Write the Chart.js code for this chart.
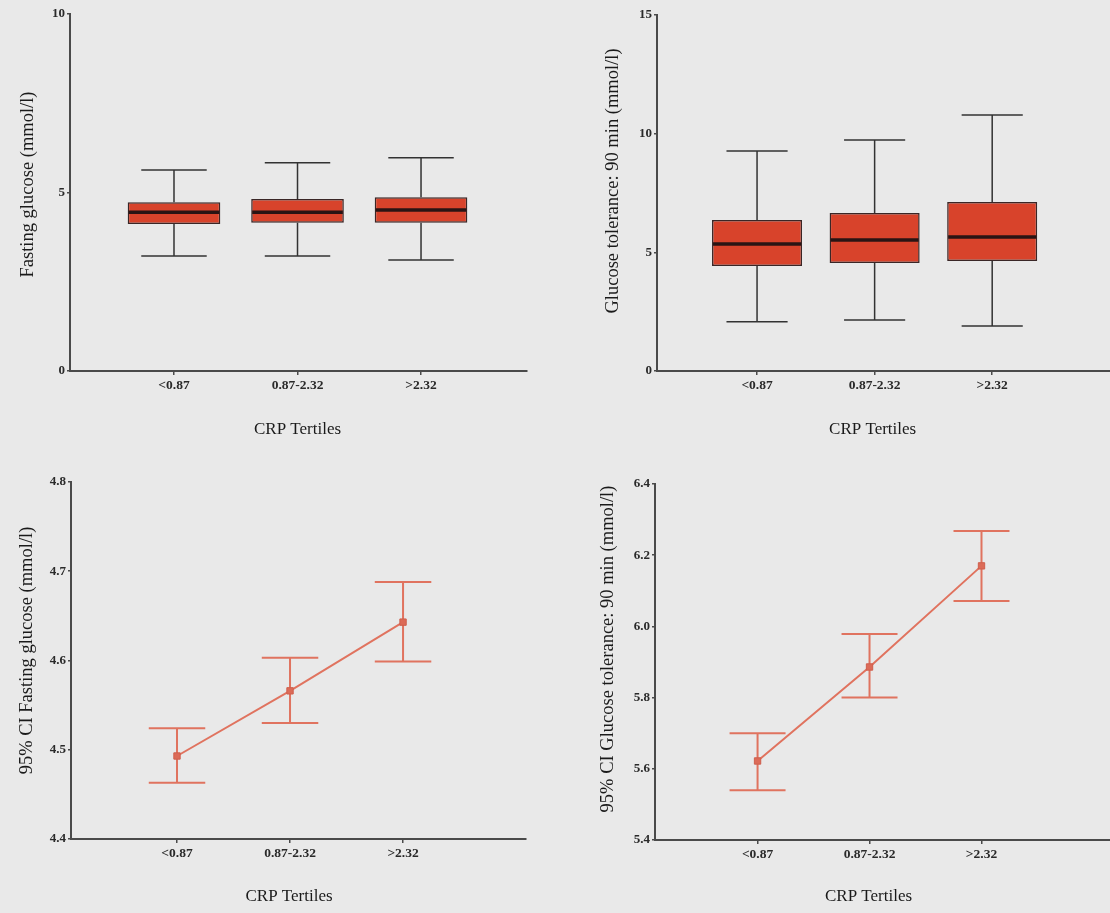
<!DOCTYPE html>
<html>
<head>
<meta charset="utf-8">
<title>Glucose by CRP tertiles</title>
<script src="https://cdn.jsdelivr.net/npm/chart.js@4.4.1/dist/chart.umd.min.js"></script>
<style>
  html, body { margin: 0; padding: 0; background: #e9e9e9; overflow: hidden; }
  body { width: 1110px; height: 913px; position: relative; }
  .panel { position: absolute; }
</style>
</head>
<body>
<div class="panel" id="pTL" style="left:13px; top:0; width:524px; height:444px;"><canvas id="cTL"></canvas></div>
<div class="panel" id="pTR" style="left:598px; top:0; width:520px; height:444px;"><canvas id="cTR"></canvas></div>
<div class="panel" id="pBL" style="left:12px; top:460px; width:524px; height:451px;"><canvas id="cBL"></canvas></div>
<div class="panel" id="pBR" style="left:593px; top:460px; width:525px; height:451px;"><canvas id="cBR"></canvas></div>
<script>
// CRP tertile groups
const categories = ['<0.87', '0.87-2.32', '>2.32'];

// Fasting glucose (mmol/l) box plots
const fastMin = [3.22, 3.22, 3.11];
const fastQ1  = [4.12, 4.15, 4.15];
const fastMed = [4.45, 4.45, 4.51];
const fastQ3  = [4.73, 4.82, 4.87];
const fastMax = [5.63, 5.83, 5.97];

// Glucose tolerance at 90 min (mmol/l) box plots
const ogttMin = [2.07, 2.15, 1.90];
const ogttQ1  = [4.42, 4.55, 4.64];
const ogttMed = [5.35, 5.52, 5.65];
const ogttQ3  = [6.36, 6.66, 7.12];
const ogttMax = [9.27, 9.73, 10.79];

// Means with 95% CI
const fastMean = [4.493, 4.566, 4.643];
const fastLo   = [4.463, 4.530, 4.599];
const fastHi   = [4.524, 4.603, 4.688];
const ogttMean = [5.622, 5.886, 6.170];
const ogttLo   = [5.540, 5.800, 6.071];
const ogttHi   = [5.700, 5.979, 6.268];

// y tick values
const fastTicks   = [0, 5, 10];
const ogttTicks   = [0, 5, 10, 15];
const fastCiTicks = [4.4, 4.5, 4.6, 4.7, 4.8];
const ogttCiTicks = [5.4, 5.6, 5.8, 6.0, 6.2, 6.4];

const xTitleText = 'CRP Tertiles';

Chart.defaults.font.family = '"Liberation Serif", "Times New Roman", serif';
Chart.defaults.color = '#1a1a1a';
Chart.defaults.animation = false;

const AXIS = '#4a4a4a';
const BOX_FILL = '#d8432b';
const BOX_EDGE = '#3a2626';
const CI_RED = '#e0735f';

// whiskers + median line for the floating-bar boxes
const boxWhisker = {
  id: 'boxWhisker',
  beforeDatasetsDraw(chart, args, opts) {
    if (!opts.min) return;
    const { ctx, scales: { x, y } } = chart;
    ctx.save();
    ctx.strokeStyle = '#333';
    ctx.lineWidth = 1.5;
    opts.min.forEach((lo, i) => {
      const cx = x.getPixelForValue(i + 1);
      const half = (x.getPixelForValue(1 + opts.cap / 2) - x.getPixelForValue(1));
      const yLo = y.getPixelForValue(lo), yHi = y.getPixelForValue(opts.max[i]);
      const yQ1 = y.getPixelForValue(opts.q1[i]), yQ3 = y.getPixelForValue(opts.q3[i]);
      ctx.beginPath();
      ctx.moveTo(cx, yQ1); ctx.lineTo(cx, yLo);
      ctx.moveTo(cx, yQ3); ctx.lineTo(cx, yHi);
      ctx.moveTo(cx - half, yLo); ctx.lineTo(cx + half, yLo);
      ctx.moveTo(cx - half, yHi); ctx.lineTo(cx + half, yHi);
      ctx.stroke();
    });
    ctx.restore();
  },
  afterDatasetsDraw(chart, args, opts) {
    if (!opts.med) return;
    const { ctx, scales: { y } } = chart;
    const meta = chart.getDatasetMeta(0);
    ctx.save();
    ctx.strokeStyle = '#2a1414';
    ctx.lineWidth = 3.5;
    meta.data.forEach((bar, i) => {
      const ym = y.getPixelForValue(opts.med[i]);
      ctx.beginPath();
      ctx.moveTo(bar.x - bar.width / 2 + 1, ym);
      ctx.lineTo(bar.x + bar.width / 2 - 1, ym);
      ctx.stroke();
    });
    ctx.restore();
  }
};

// vertical CI bars with caps
const errorBars = {
  id: 'errorBars',
  beforeDatasetsDraw(chart, args, opts) {
    if (!opts.lo) return;
    const { ctx, scales: { x, y } } = chart;
    ctx.save();
    ctx.strokeStyle = CI_RED;
    ctx.lineWidth = 2;
    opts.lo.forEach((lo, i) => {
      const cx = x.getPixelForValue(i + 1);
      const half = (x.getPixelForValue(1 + opts.cap / 2) - x.getPixelForValue(1));
      const y1 = y.getPixelForValue(lo), y2 = y.getPixelForValue(opts.hi[i]);
      ctx.beginPath();
      ctx.moveTo(cx, y1); ctx.lineTo(cx, y2);
      ctx.moveTo(cx - half, y1); ctx.lineTo(cx + half, y1);
      ctx.moveTo(cx - half, y2); ctx.lineTo(cx + half, y2);
      ctx.stroke();
    });
    ctx.restore();
  }
};

// axis titles: rotated y title a bit above the axis middle, x title under the axis
const axisTitles = {
  id: 'axisTitles',
  afterDraw(chart, args, opts) {
    const { ctx, chartArea, scales: { x, y } } = chart;
    const family = Chart.defaults.font.family;
    ctx.save();
    ctx.fillStyle = '#1a1a1a';
    ctx.textAlign = 'center';
    ctx.textBaseline = 'middle';

    ctx.font = '18.5px ' + family;
    ctx.save();
    ctx.translate(y.left + 15, (chartArea.top + chartArea.bottom) / 2 - opts.yShift);
    ctx.rotate(-Math.PI / 2);
    ctx.fillText(opts.yText, 0, 0);
    ctx.restore();

    ctx.font = '17px ' + family;
    ctx.fillText(opts.xText, x.getPixelForValue(2) + opts.xShift, chartArea.bottom + opts.xGap);
    ctx.restore();
  }
};

function scalesFor(opt) {
  return {
    x: {
      type: 'linear',
      min: opt.xMin,
      max: opt.xMax,
      offset: false,
      afterBuildTicks: s => { s.ticks = categories.map((c, i) => ({ value: i + 1 })); },
      afterFit: s => { s.height = opt.xHeight; },
      grid: { offset: false, drawOnChartArea: false, drawTicks: true, tickLength: 4, color: AXIS, lineWidth: 1.5 },
      border: { display: true, color: AXIS, width: 2 },
      ticks: {
        padding: 2,
        font: { size: 13.5, weight: 'bold' },
        color: '#2a2a2a',
        callback: v => categories[v - 1]
      }
    },
    y: {
      min: opt.ticks[0],
      max: opt.ticks[opt.ticks.length - 1],
      afterBuildTicks: s => { s.ticks = opt.ticks.map(v => ({ value: v })); },
      afterFit: s => { s.width = opt.yWidth; },
      grid: { drawOnChartArea: false, drawTicks: true, tickLength: 3, color: AXIS, lineWidth: 1.5 },
      border: { display: true, color: AXIS, width: 2 },
      ticks: {
        padding: 2,
        font: { size: 13, weight: 'bold' },
        color: '#2a2a2a',
        callback: v => opt.decimals ? v.toFixed(opt.decimals) : v
      }
    }
  };
}

function titlesFor(opt) {
  return { yText: opt.yTitle, yShift: opt.yShift, xText: xTitleText, xShift: opt.xShift, xGap: opt.xGap };
}

function boxChart(id, q1, med, q3, lo, hi, opt) {
  return new Chart(document.getElementById(id), {
    type: 'bar',
    data: {
      datasets: [{
        data: categories.map((c, i) => ({ x: i + 1, y: [q1[i], q3[i]] })),
        backgroundColor: BOX_FILL,
        borderColor: BOX_EDGE,
        borderWidth: 1.5,
        borderSkipped: false,
        categoryPercentage: 1,
        barPercentage: opt.boxWidth
      }]
    },
    options: {
      responsive: true,
      maintainAspectRatio: false,
      layout: { padding: { top: opt.padTop, right: opt.padRight, left: 0, bottom: 0 } },
      plugins: {
        legend: { display: false },
        tooltip: { enabled: false },
        boxWhisker: { min: lo, max: hi, q1: q1, q3: q3, med: med, cap: opt.cap },
        axisTitles: titlesFor(opt)
      },
      scales: scalesFor(opt)
    },
    plugins: [boxWhisker, axisTitles]
  });
}

function ciChart(id, mean, lo, hi, opt) {
  return new Chart(document.getElementById(id), {
    type: 'line',
    data: {
      datasets: [{
        data: categories.map((c, i) => ({ x: i + 1, y: mean[i] })),
        borderColor: CI_RED,
        borderWidth: 2,
        pointStyle: 'rect',
        pointRadius: 4.5,
        pointBackgroundColor: '#dc6b58',
        pointBorderColor: '#cf5f4d',
        pointBorderWidth: 1
      }]
    },
    options: {
      responsive: true,
      maintainAspectRatio: false,
      layout: { padding: { top: opt.padTop, right: opt.padRight, left: 0, bottom: 0 } },
      plugins: {
        legend: { display: false },
        tooltip: { enabled: false },
        errorBars: { lo: lo, hi: hi, cap: opt.cap },
        axisTitles: titlesFor(opt)
      },
      scales: scalesFor(opt)
    },
    plugins: [errorBars, axisTitles]
  });
}

boxChart('cTL', fastQ1, fastMed, fastQ3, fastMin, fastMax, {
  xMin: 0.158, xMax: 3.858, xHeight: 73, yWidth: 57, padTop: 14, padRight: 10,
  ticks: fastTicks, yTitle: 'Fasting glucose (mmol/l)', yShift: 8, xShift: 0, xGap: 59,
  boxWidth: 0.75, cap: 0.53
});

boxChart('cTR', ogttQ1, ogttMed, ogttQ3, ogttMin, ogttMax, {
  xMin: 0.149, xMax: 4.07, xHeight: 73, yWidth: 59, padTop: 15, padRight: 0,
  ticks: ogttTicks, yTitle: 'Glucose tolerance: 90 min (mmol/l)', yShift: 12, xShift: -2, xGap: 59,
  boxWidth: 0.766, cap: 0.52
});

ciChart('cBL', fastMean, fastLo, fastHi, {
  xMin: 0.062, xMax: 4.088, xHeight: 72, yWidth: 59, padTop: 22, padRight: 10,
  ticks: fastCiTicks, decimals: 1, yTitle: '95% CI Fasting glucose (mmol/l)', yShift: 10, xShift: -1, xGap: 58,
  cap: 0.5
});

ciChart('cBR', ogttMean, ogttLo, ogttHi, {
  xMin: 0.084, xMax: 4.17, xHeight: 71, yWidth: 62, padTop: 24, padRight: 0,
  ticks: ogttCiTicks, decimals: 1, yTitle: '95% CI Glucose tolerance: 90 min (mmol/l)', yShift: 13, xShift: -1, xGap: 57,
  cap: 0.5
});
</script>
</body>
</html>
